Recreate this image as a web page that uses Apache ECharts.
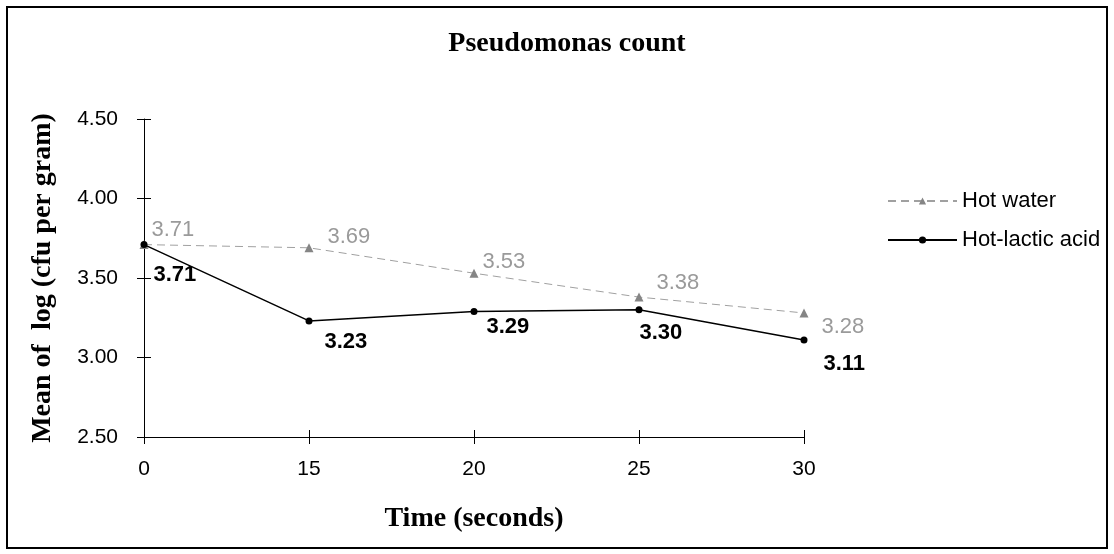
<!DOCTYPE html>
<html>
<head>
<meta charset="utf-8">
<script src="https://cdn.jsdelivr.net/npm/echarts@6/dist/echarts.min.js"></script>
<style>
  html, body { margin: 0; padding: 0; background: #fff; }
  #frame { position: absolute; left: 6px; top: 6px; width: 1102px; height: 543px; border: 2px solid #000; box-sizing: border-box; }
  #chart { position: absolute; left: 0; top: 0; width: 1114px; height: 554px; }
</style>
</head>
<body>
<div id="frame"></div>
<div id="chart"></div>
<script>
// Time points (seconds) and mean log counts per treatment
const times = ['0', '15', '20', '25', '30'];
const hotWater = [3.71, 3.69, 3.53, 3.38, 3.28];
const hotLactic = [3.71, 3.23, 3.29, 3.30, 3.11];
const yTicks = [2.5, 3.0, 3.5, 4.0, 4.5];

// Per-point label offsets (label drawn to the right of each marker)
const waterOffsets = [[-2, -15], [9, -11], [-1, -11], [8, -14], [8, 14]];
const lacticOffsets = [[1, 30], [7, 21], [4, 16], [-8, 23], [11, 24]];

const serif = '"Liberation Serif", "Times New Roman", serif';
const sans = '"Liberation Sans", Arial, sans-serif';

function withLabels(values, offsets, style) {
  return values.map((v, i) => ({
    value: v,
    label: Object.assign({ show: true, position: 'right', offset: offsets[i],
      formatter: p => p.value.toFixed(2) }, style)
  }));
}

const chart = echarts.init(document.getElementById('chart'), null, { renderer: 'canvas' });

const baseY = {
  type: 'value',
  min: yTicks[0],
  max: yTicks[yTicks.length - 1],
  interval: 0.5,
  splitLine: { show: false }
};

chart.setOption({
  animation: false,
  backgroundColor: 'transparent',
  title: {
    text: 'Pseudomonas count',
    left: 562, top: 25, textAlign: 'center',
    textStyle: { fontFamily: serif, fontWeight: 'bold', fontSize: 28, color: '#000' }
  },
  legend: {
    orient: 'vertical',
    left: 882, top: 185,
    itemWidth: 69, itemHeight: 9, itemGap: 17,
    textStyle: { fontFamily: sans, fontSize: 22, color: '#000' },
    data: ['Hot water', 'Hot-lactic acid']
  },
  grid: { left: 144, right: 310, top: 119, bottom: 117, containLabel: false },
  xAxis: [{
    type: 'category',
    data: times,
    boundaryGap: false,
    name: 'Time (seconds)',
    nameLocation: 'middle',
    nameGap: 68,
    nameTextStyle: { fontFamily: serif, fontWeight: 'bold', fontSize: 28, color: '#000' },
    axisLine: { lineStyle: { color: '#000', width: 1 } },
    axisTick: { show: true, alignWithLabel: true, length: 7, lineStyle: { color: '#000' } },
    axisLabel: { fontFamily: sans, fontSize: 21, color: '#000', margin: 22 }
  }, {
    type: 'category',
    data: times,
    boundaryGap: false,
    position: 'bottom',
    axisLine: { show: false },
    axisTick: { show: true, inside: true, length: 7, lineStyle: { color: '#000' } },
    axisLabel: { show: false }
  }],
  yAxis: [Object.assign({}, baseY, {
    name: 'Mean of  log (cfu per gram)',
    nameLocation: 'middle',
    nameGap: 87,
    nameTextStyle: { fontFamily: serif, fontWeight: 'bold', fontSize: 28, color: '#000' },
    axisLine: { show: true, lineStyle: { color: '#000', width: 1 } },
    axisTick: { show: true, length: 7, lineStyle: { color: '#000' } },
    axisLabel: { fontFamily: sans, fontSize: 21, color: '#000', margin: 26,
      formatter: v => v.toFixed(2) }
  }), Object.assign({}, baseY, {
    position: 'left',
    axisLine: { show: false },
    axisTick: { show: true, inside: true, length: 7, lineStyle: { color: '#000' } },
    axisLabel: { show: false }
  })],
  series: [{
    name: 'Hot water',
    type: 'line',
    data: withLabels(hotWater, waterOffsets,
      { fontFamily: sans, fontSize: 22, color: '#9a9a9a' }),
    symbol: 'triangle',
    symbolSize: 9,
    itemStyle: { color: '#858585' },
    lineStyle: { color: '#a0a0a0', width: 1, type: [8, 5] },
    z: 2
  }, {
    name: 'Hot-lactic acid',
    type: 'line',
    data: withLabels(hotLactic, lacticOffsets,
      { fontFamily: sans, fontSize: 22, fontWeight: 'bold', color: '#000' }),
    symbol: 'circle',
    symbolSize: 7,
    itemStyle: { color: '#000' },
    lineStyle: { color: '#000', width: 1.5 },
    z: 3
  }]
});
</script>
</body>
</html>
